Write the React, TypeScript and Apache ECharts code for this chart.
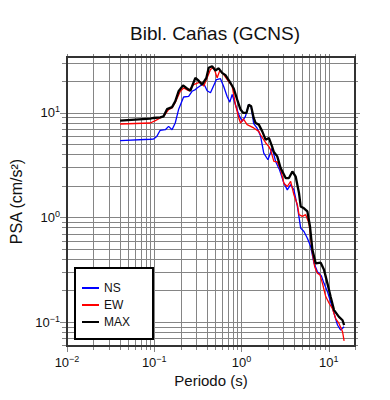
import React, { useEffect, useRef } from 'react';
import * as echarts from 'echarts';

const FONT = '"Liberation Sans", Arial, Helvetica, sans-serif';

const titleText = 'Bibl. Cañas (GCNS)';
const xAxisName = 'Periodo (s)';
const yAxisName = 'PSA (cm/s²)';
const seriesNames = ['NS', 'EW', 'MAX'];
const seriesColors = ['#0000ff', '#ff0000', '#000000'];

const nsPeriods = [0.0406, 0.090, 0.098, 0.107, 0.117, 0.134, 0.146, 0.160, 0.174, 0.190, 0.217, 0.248, 0.271, 0.296, 0.310, 0.369, 0.404, 0.441, 0.516, 0.574, 0.627, 0.686, 0.735, 0.782, 0.853, 0.931, 1.02, 1.11, 1.21, 1.29, 1.38, 1.51, 1.65, 1.80, 2.01, 2.25, 2.46, 2.73, 3.06, 3.35, 3.66, 3.99, 4.37, 4.77, 5.20, 5.69, 6.21, 6.78, 7.41, 8.24, 8.83, 9.66, 10.5, 11.5, 12.6, 13.7, 15.0];
const nsValues = [5.40, 5.57, 5.60, 5.93, 6.78, 6.87, 7.39, 6.87, 7.96, 10.7, 14.1, 14.3, 16.0, 16.6, 17.2, 19.0, 16.2, 15.5, 20.7, 21.1, 17.7, 14.2, 12.6, 14.9, 11.9, 9.57, 8.26, 9.22, 11.9, 11.4, 7.85, 7.11, 6.03, 4.11, 3.55, 4.59, 3.42, 2.85, 2.12, 1.83, 2.05, 1.83, 1.27, 0.789, 0.732, 0.632, 0.526, 0.364, 0.303, 0.275, 0.234, 0.195, 0.156, 0.121, 0.0936, 0.0838, 0.0902];

const ewPeriods = [0.0406, 0.090, 0.103, 0.117, 0.130, 0.146, 0.160, 0.174, 0.199, 0.217, 0.248, 0.283, 0.338, 0.369, 0.404, 0.441, 0.481, 0.526, 0.564, 0.627, 0.686, 0.782, 0.853, 0.931, 0.975, 1.05, 1.16, 1.38, 1.58, 1.65, 1.89, 2.06, 2.15, 2.35, 2.57, 2.81, 3.06, 3.35, 3.66, 3.99, 4.37, 4.56, 4.99, 5.44, 5.94, 6.50, 6.90, 7.41, 7.94, 8.47, 9.24, 10.1, 11.0, 12.0, 13.1, 14.4, 15.0];
const ewValues = [7.79, 7.96, 8.38, 8.89, 9.36, 10.7, 11.1, 12.5, 16.0, 17.2, 16.2, 18.5, 19.7, 17.9, 21.5, 25.8, 27.1, 21.5, 25.2, 23.1, 20.7, 17.9, 11.9, 8.89, 7.96, 8.70, 7.68, 7.14, 6.62, 6.15, 5.16, 4.73, 4.43, 3.42, 3.39, 2.85, 2.12, 1.97, 2.20, 1.64, 1.32, 1.06, 1.02, 1.06, 0.879, 0.454, 0.338, 0.292, 0.282, 0.234, 0.175, 0.151, 0.135, 0.108, 0.097, 0.0807, 0.066];

const maxPeriods = [0.0406, 0.0605, 0.090, 0.098, 0.117, 0.128, 0.140, 0.160, 0.174, 0.190, 0.214, 0.233, 0.259, 0.296, 0.323, 0.353, 0.396, 0.421, 0.460, 0.502, 0.548, 0.600, 0.655, 0.748, 0.815, 0.893, 0.975, 1.05, 1.14, 1.21, 1.29, 1.38, 1.45, 1.58, 1.73, 1.89, 2.06, 2.25, 2.35, 2.57, 2.81, 3.21, 3.50, 3.83, 4.18, 4.56, 4.77, 5.20, 5.69, 6.10, 6.50, 7.09, 8.09, 8.83, 9.66, 10.5, 11.5, 13.1, 14.4, 15.0];
const maxValues = [8.38, 8.57, 8.76, 8.89, 9.02, 9.22, 10.8, 11.3, 12.8, 16.0, 18.2, 17.2, 16.2, 21.5, 20.2, 18.5, 21.5, 26.8, 27.7, 25.3, 26.5, 24.0, 22.8, 19.2, 17.0, 13.3, 10.7, 9.93, 9.93, 11.9, 11.5, 8.89, 7.96, 7.68, 6.62, 5.52, 5.73, 4.70, 4.20, 3.82, 2.96, 2.37, 2.37, 2.74, 2.45, 1.71, 1.27, 1.22, 1.14, 0.816, 0.489, 0.364, 0.369, 0.315, 0.234, 0.175, 0.130, 0.112, 0.104, 0.0935];

const xMin = 0.01;
const xMax = 20;
const yMin = 0.059;
const yMax = 34;
const xGridValues = [0.01, 0.02, 0.03, 0.04, 0.05, 0.06, 0.07, 0.08, 0.09, 0.1, 0.2, 0.3, 0.4, 0.5, 0.6, 0.7, 0.8, 0.9, 1, 2, 3, 4, 5, 6, 7, 8, 9, 10, 20];
const yGridValues = [0.06, 0.07, 0.08, 0.09, 0.1, 0.2, 0.3, 0.4, 0.5, 0.6, 0.7, 0.8, 0.9, 1, 2, 3, 4, 5, 6, 7, 8, 9, 10, 20, 30];

const isPow10 = (v: number) => {
  const e = Math.log10(v);
  return Math.abs(e - Math.round(e)) < 1e-6;
};
const powLabel = (v: number) => {
  if (!isPow10(v)) return '';
  const r = Math.round(Math.log10(v));
  const exp = r < 0 ? '\u2212' + Math.abs(r) : String(r);
  return `{b|10}{s|${exp}}`;
};
const labelRich = {
  b: { fontSize: 13, fontFamily: FONT, color: '#111', lineHeight: 16 },
  s: { fontSize: 9, fontFamily: FONT, color: '#111', verticalAlign: 'top', lineHeight: 16 },
};

export default function App() {
  const ref = useRef<HTMLDivElement>(null);
  useEffect(() => {
    if (!ref.current) return;
    const chart = echarts.init(ref.current, null, { renderer: 'svg' });
    const gridColor = '#858585';
    const option: any = {
      animation: false,
      backgroundColor: '#ffffff',
      title: {
        text: titleText,
        left: 125,
        top: 19,
        textStyle: { fontFamily: FONT, fontSize: 19, fontWeight: 'normal', color: '#111' },
      },
      grid: {
        left: 67, top: 57, right: 35, bottom: 54,
        show: true, borderColor: '#333', borderWidth: 2, backgroundColor: 'transparent', z: 10,
      },
      legend: {
        orient: 'vertical',
        left: 75,
        top: 268,
        backgroundColor: '#ffffff',
        borderColor: '#000',
        borderWidth: 2,
        borderRadius: 0,
        padding: [13, 23, 10, 7],
        itemGap: 3,
        itemWidth: 17,
        itemHeight: 2,
        z: 20,
        textStyle: { fontFamily: FONT, fontSize: 12, color: '#111', lineHeight: 14 },
        data: seriesNames.map((n) => ({ name: n, icon: 'rect' })),
      },
      xAxis: {
        type: 'log',
        logBase: 10,
        min: xMin,
        max: xMax,
        name: xAxisName,
        nameLocation: 'middle',
        nameGap: 26,
        nameTextStyle: { fontFamily: FONT, fontSize: 15, color: '#111' },
        axisLine: { show: false },
        axisTick: { show: false },
        splitLine: { show: false },
        axisLabel: { margin: 8, formatter: powLabel, rich: labelRich, showMinLabel: true, showMaxLabel: true },
      },
      yAxis: {
        type: 'log',
        logBase: 10,
        min: yMin,
        max: yMax,
        name: yAxisName,
        nameLocation: 'middle',
        nameGap: 41,
        nameTextStyle: { fontFamily: FONT, fontSize: 16, color: '#111' },
        axisLine: { show: false },
        axisTick: { show: false },
        splitLine: { show: false },
        axisLabel: { margin: 7, formatter: powLabel, rich: labelRich },
      },
      series: [
        {
          type: 'custom',
          silent: true,
          clip: false,
          z: 1,
          data: xGridValues.map((v) => [v, 1]),
          renderItem: (params: any, api: any) => {
            const v = api.value(0);
            const p = api.coord([v, 1]);
            const cs = params.coordSys;
            const major = isPow10(v);
            const x = Math.round(p[0]) + 0.5;
            return {
              type: 'line',
              shape: { x1: x, y1: cs.y - 3, x2: x, y2: cs.y + cs.height + (major ? 6 : 4) },
              style: { stroke: gridColor, lineWidth: 1 },
            };
          },
        },
        {
          type: 'custom',
          silent: true,
          clip: false,
          z: 1,
          data: yGridValues.map((v) => [1, v]),
          renderItem: (params: any, api: any) => {
            const v = api.value(1);
            const p = api.coord([1, v]);
            const cs = params.coordSys;
            const major = isPow10(v);
            const y = Math.round(p[1]) + 0.5;
            return {
              type: 'line',
              shape: { x1: cs.x - (major ? 7 : 5), y1: y, x2: cs.x + cs.width + (major ? 5 : 3), y2: y },
              style: { stroke: gridColor, lineWidth: 1 },
            };
          },
        },
        {
          name: 'NS', type: 'line', z: 3, showSymbol: false, symbol: 'none', color: seriesColors[0],
          lineStyle: { width: 1.3, color: seriesColors[0] },
          data: nsPeriods.map((t, i) => [t, nsValues[i]]),
        },
        {
          name: 'EW', type: 'line', z: 4, showSymbol: false, symbol: 'none', color: seriesColors[1],
          lineStyle: { width: 1.3, color: seriesColors[1] },
          data: ewPeriods.map((t, i) => [t, ewValues[i]]),
        },
        {
          name: 'MAX', type: 'line', z: 5, showSymbol: false, symbol: 'none', color: seriesColors[2],
          lineStyle: { width: 2.3, color: seriesColors[2] },
          data: maxPeriods.map((t, i) => [t, maxValues[i]]),
        },
      ],
    };
    chart.setOption(option);
    return () => chart.dispose();
  }, []);
  return (
    <div
      ref={ref}
      style={{ position: 'fixed', left: 0, top: 0, width: 390, height: 400, background: '#fff' }}
    />
  );
}
